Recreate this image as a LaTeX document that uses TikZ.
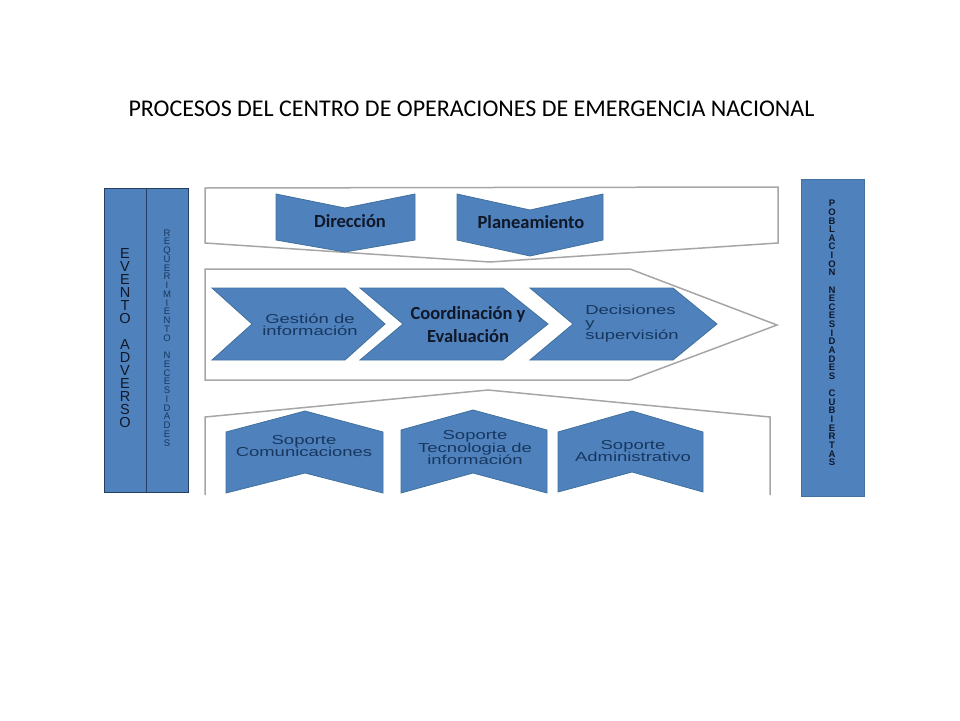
\documentclass[tikz,border=0pt]{standalone}
\usepackage{fontspec}
\setmainfont{Carlito}
\newfontfamily\arialf{Liberation Sans}
\definecolor{blu}{HTML}{4F81BD}
\definecolor{bluedge}{HTML}{41719C}
\definecolor{bardark}{HTML}{243F60}
\definecolor{navy}{HTML}{17375E}
\definecolor{inkdark}{HTML}{101828}
\definecolor{frame}{HTML}{A6A6A6}
\tikzset{
  chev/.style={fill=blu, draw=bluedge, line width=0.8pt, line join=miter},
  bar/.style={fill=blu, draw=bardark, line width=1pt},
  rbar/.style={fill=blu, draw=bluedge, line width=0.8pt},
  cont/.style={draw=frame, line width=1.5pt, fill=white},
  boldlbl/.style={font=\fontsize{18.5}{23}\selectfont\bfseries, text=inkdark, align=center, inner sep=0pt},
  wlbl/.style={font=\arialf\fontsize{13}{12.5}\selectfont, text=navy, align=center, inner sep=0pt, xscale=1.42},
  vtxt/.style={font=\arialf\fontsize{14.5}{13}\selectfont, text=inkdark, align=center, inner sep=0pt},
  vsmall/.style={font=\arialf\fontsize{9.5}{8.75}\selectfont, text=navy, align=center, inner sep=0pt},
  vbold/.style={font=\arialf\bfseries\fontsize{9.5}{8.63}\selectfont, text=inkdark, align=center, inner sep=0pt},
}
\begin{document}
\begin{tikzpicture}[x=1pt,y=-1pt]
\useasboundingbox (0,0) rectangle (960,720);
\lineskiplimit=-20pt
% title
\node[anchor=base, font=\fontsize{24}{28}\selectfont, inner sep=0pt] (title) at (471.5,116) {PROCESOS DEL CENTRO DE OPERACIONES DE EMERGENCIA NACIONAL};

% left bars
\draw[bar] (104,188) rectangle (146,492);
\draw[bar] (146,188) rectangle (188,492);
% right bar
\draw[rbar] (801,179) rectangle (864,496);

% top container
\draw[cont] (205,188) -- (778,187) -- (778,243) -- (490,262) -- (205,243) -- cycle;
% middle container
\draw[cont] (205,269) -- (630,269) -- (777,325) -- (630,380) -- (205,380) -- cycle;
% bottom container (open at bottom)
\draw[cont] (205,495) -- (205,417) -- (488,390) -- (770,417) -- (770,495);

% top chevrons (pointing down)
\draw[chev] (276,194) -- (345,208) -- (415,194) -- (415,240) -- (345,252) -- (276,240) -- cycle;
\draw[chev] (457,194) -- (530,210) -- (603,194) -- (603,240) -- (530,256) -- (457,240) -- cycle;

% middle chevrons (pointing right)
\draw[chev] (212,288) -- (345,288) -- (385,324) -- (345,360) -- (212,360) -- (252,324) -- cycle;
\draw[chev] (360,288) -- (503,288) -- (548,324) -- (503,360) -- (360,360) -- (403,324) -- cycle;
\draw[chev] (530,288) -- (673,288) -- (717,324) -- (673,360) -- (530,360) -- (573,324) -- cycle;

% bottom chevrons (pointing up)
\draw[chev] (226,432) -- (305,411) -- (383,432) -- (383,493) -- (305,473) -- (226,493) -- cycle;
\draw[chev] (401,430) -- (473,410) -- (547,430) -- (547,493) -- (473,473) -- (401,493) -- cycle;
\draw[chev] (558,432) -- (632,411) -- (703,432) -- (703,492) -- (632,472) -- (558,492) -- cycle;

% labels
\node[boldlbl] (dir) at (350,221) {Dirección};
\node[boldlbl] (plan) at (531,222) {Planeamiento};
\node[boldlbl] (coord) at (468,325) {Coordinación y\\Evaluación};
\node[wlbl] (gest) at (310,325) {Gestión de\\información};
\node[wlbl, align=left, anchor=west] (dec) at (585,324) {Decisiones\\y\\supervisión};
\node[wlbl] (scom) at (304,446) {Soporte\\Comunicaciones};
\node[wlbl] (stec) at (475,448) {Soporte\\Tecnologia de\\información};
\node[wlbl] (sadm) at (633,451) {Soporte\\Administrativo};

% vertical texts
\node[vtxt] (evento) at (125,338) {E\\V\\E\\N\\T\\O\\\mbox{}\\A\\D\\V\\E\\R\\S\\O};
\node[vsmall] (req) at (167,338) {R\\E\\Q\\U\\E\\R\\I\\M\\I\\E\\N\\T\\O\\\mbox{}\\N\\E\\C\\E\\S\\I\\D\\A\\D\\E\\S};
\node[vbold] (pob) at (832,333) {P\\O\\B\\L\\A\\C\\I\\O\\N\\\mbox{}\\N\\E\\C\\E\\S\\I\\D\\A\\D\\E\\S\\\mbox{}\\C\\U\\B\\I\\E\\R\\T\\A\\S};
\end{tikzpicture}
\end{document}
